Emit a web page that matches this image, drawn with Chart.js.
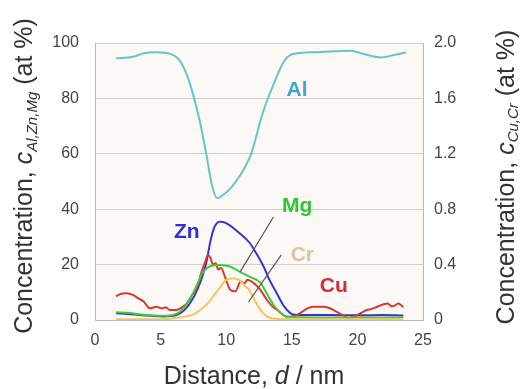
<!DOCTYPE html>
<html>
<head>
<meta charset="utf-8">
<script src="https://cdn.jsdelivr.net/npm/chart.js@4.4.1/dist/chart.umd.min.js"></script>
<style>
  html, body { margin: 0; padding: 0; background: #fff; }
  #wrap { width: 521px; height: 389px; }
</style>
</head>
<body>
<div id="wrap"><canvas id="myChart" width="521" height="389"></canvas></div>
<script>
// distance d (nm) and concentrations
const alX = [1.6, 2.9, 3.7, 4.7, 5.8, 6.4, 7.0, 7.5, 8.0, 8.5, 8.9, 9.3, 9.8, 10.4, 11.1, 11.9, 12.8, 13.6, 14.4, 14.9, 15.8, 16.9, 18.2, 19.5, 20.5, 21.8, 22.8, 23.7];
const alY = [94.5, 95, 96.3, 96.7, 96, 94, 88.5, 81, 71.5, 59.5, 49, 44, 45.3, 48, 52.5, 60, 75, 85, 93.3, 95.7, 96.5, 96.7, 97, 97.2, 96, 94.8, 95.7, 96.6];

const znX = [1.6, 2.5, 3.4, 4.3, 5.2, 6.2, 6.8, 7.3, 7.8, 8.2, 8.5, 8.8, 9.1, 9.5, 10.0, 11.0, 11.8, 12.3, 12.85, 13.3, 13.85, 14.4, 15.1, 16, 18, 20, 22, 23.5];
const znY = [2.4, 2.2, 1.8, 1.5, 1.3, 1.8, 3.5, 6.5, 11, 16, 21, 28.5, 33.5, 35.5, 35, 31.4, 27.8, 24, 19.3, 14.5, 9.7, 5, 2, 1.8, 1.8, 1.7, 1.8, 1.6];

const mgX = [1.6, 2.5, 3.5, 4.5, 5.5, 6.2, 6.8, 7.3, 7.8, 8.25, 8.8, 9.5, 10.3, 11.05, 11.8, 12.6, 13.1, 13.6, 14.1, 14.6, 15.5, 17, 19, 21, 23.5];
const mgY = [2.8, 2.6, 2.0, 1.6, 1.5, 2.2, 4.5, 8, 13, 17.4, 19.5, 19.9, 19.3, 17.4, 15.6, 13.5, 9.5, 5.5, 2.8, 1.3, 1, 0.9, 0.9, 0.9, 0.9];

// Cu and Cr go on the right axis (0 - 2.0 at %)
const crX = [1.6, 3, 4.5, 5.5, 6.3, 7.0, 7.5, 8.0, 8.5, 9.0, 9.5, 10.0, 10.5, 11.0, 11.4, 11.8, 12.3, 12.8, 13.3, 14, 15, 17, 19, 21, 23.5];
const crY = [0.006, 0.006, 0.006, 0.008, 0.016, 0.026, 0.04, 0.07, 0.11, 0.17, 0.23, 0.29, 0.30, 0.29, 0.25, 0.21, 0.12, 0.05, 0.016, 0.008, 0.006, 0.006, 0.006, 0.006, 0.006];

const cuX = [1.6, 2.0, 2.4, 2.9, 3.3, 3.7, 4.2, 4.7, 5.1, 5.4, 5.7, 6.2, 6.6, 7.0, 7.4, 7.8, 8.1, 8.4, 8.6, 8.8, 9.0, 9.2, 9.4, 9.6, 9.9, 10.1, 10.3, 10.7, 11.1, 11.4, 11.6, 12.1, 12.6, 13.1, 13.5, 13.9, 14.3, 14.6, 15.0, 15.4, 15.8, 16.2, 16.6, 16.9, 17.4, 17.8, 18.2, 18.6, 19.0, 19.3, 19.6, 20.0, 20.4, 20.7, 21.1, 21.5, 21.9, 22.3, 22.6, 22.8, 23.1, 23.3, 23.5];
const cuY = [0.17, 0.19, 0.194, 0.182, 0.156, 0.134, 0.084, 0.096, 0.084, 0.092, 0.072, 0.072, 0.09, 0.12, 0.18, 0.242, 0.34, 0.42, 0.47, 0.45, 0.40, 0.41, 0.364, 0.376, 0.314, 0.26, 0.218, 0.206, 0.278, 0.264, 0.29, 0.266, 0.218, 0.146, 0.10, 0.072, 0.04, 0.024, 0.026, 0.036, 0.06, 0.084, 0.096, 0.096, 0.096, 0.088, 0.072, 0.05, 0.03, 0.012, 0.02, 0.036, 0.056, 0.072, 0.08, 0.096, 0.11, 0.12, 0.10, 0.102, 0.12, 0.11, 0.092];

const xTicks = [0, 5, 10, 15, 20, 25];
const leftTicks = [0, 20, 40, 60, 80, 100];
const rightTicks = ["0", "0.4", "0.8", "1.2", "1.6", "2.0"];

// in-plot labels, positioned in data units of the left axis
const labels = [
    { text: "Al", x: 15.4, y: 83, color: "#3aa6d2" },
    { text: "Zn", x: 7.0, y: 31.8, color: "#2f2fd2" },
    { text: "Mg", x: 15.4, y: 41, color: "#33c433" },
    { text: "Cr", x: 15.8, y: 23.5, color: "#e2c29c" },
    { text: "Cu", x: 18.2, y: 12.3, color: "#d42a3a" },
];
const leaders = [
    [13.6, 37.2, 11.05, 17.3],
    [14.2, 23.5, 11.7, 6.5],
];

const pts = (xs, ys) => xs.map((x, i) => ({ x: x, y: ys[i] }));
const FONT = "'Liberation Sans', Arial, sans-serif";

const plotBg = {
    id: "plotBg",
    beforeDraw(chart) {
        const a = chart.chartArea, ctx = chart.ctx;
        ctx.save();
        ctx.fillStyle = "#fcf8f6";
        ctx.fillRect(a.left, a.top, a.right - a.left, a.bottom - a.top);
        ctx.restore();
    },
};

function drawRich(ctx, parts) {
    // parts: [text, font, dy]
    let w = 0;
    parts.forEach((p) => { ctx.font = p[1]; w += ctx.measureText(p[0]).width; });
    let u = -w / 2;
    parts.forEach((p) => {
        ctx.font = p[1];
        ctx.fillText(p[0], u, p[2]);
        u += ctx.measureText(p[0]).width;
    });
}

const extras = {
    id: "extras",
    afterDatasetsDraw(chart) {
        const ctx = chart.ctx, sx = chart.scales.x, sy = chart.scales.y;
        ctx.save();
        ctx.strokeStyle = "#555";
        ctx.lineWidth = 1.2;
        leaders.forEach((l) => {
            ctx.beginPath();
            ctx.moveTo(sx.getPixelForValue(l[0]), sy.getPixelForValue(l[1]));
            ctx.lineTo(sx.getPixelForValue(l[2]), sy.getPixelForValue(l[3]));
            ctx.stroke();
        });
        ctx.textAlign = "center";
        ctx.textBaseline = "middle";
        ctx.font = "bold 21px " + FONT;
        labels.forEach((l) => {
            ctx.fillStyle = l.color;
            ctx.fillText(l.text, sx.getPixelForValue(l.x), sy.getPixelForValue(l.y));
        });
        ctx.restore();
    },
    afterDraw(chart) {
        const ctx = chart.ctx;
        const big = "25px " + FONT, it = "italic 25px " + FONT, sub = "italic 15px " + FONT;
        ctx.save();
        ctx.fillStyle = "#333";
        ctx.textAlign = "left";
        ctx.textBaseline = "alphabetic";
        // x title
        ctx.save();
        ctx.translate(254, 384);
        drawRich(ctx, [["Distance, ", big, 0], ["d", it, 0], [" / nm", big, 0]]);
        ctx.restore();
        // left title
        ctx.save();
        ctx.translate(32, 176);
        ctx.rotate(-Math.PI / 2);
        drawRich(ctx, [["Concentration, ", big, 0], ["c", it, 0], ["Al,Zn,Mg", sub, 5], [" (at %)", big, 0]]);
        ctx.restore();
        // right title
        ctx.save();
        ctx.translate(514, 177);
        ctx.rotate(-Math.PI / 2);
        drawRich(ctx, [["Concentration, ", big, 0], ["c", it, 0], ["Cu,Cr", sub, 4], [" (at %)", big, 0]]);
        ctx.restore();
        ctx.restore();
    },
};

const tickFont = { family: FONT, size: 16 };

new Chart(document.getElementById("myChart").getContext("2d"), {
    type: "line",
    data: {
        datasets: [
            { label: "Al", data: pts(alX, alY), borderColor: "#62c8c6", yAxisID: "y" },
            { label: "Cr", data: pts(crX, crY), borderColor: "#f5c55a", yAxisID: "y2" },
            { label: "Mg", data: pts(mgX, mgY), borderColor: "#3ccc3c", yAxisID: "y" },
            { label: "Cu", data: pts(cuX, cuY), borderColor: "#d8392e", yAxisID: "y2", tension: 0.2 },
            { label: "Zn", data: pts(znX, znY), borderColor: "#3535d0", yAxisID: "y" },
        ],
    },
    options: {
        responsive: false,
        animation: false,
        devicePixelRatio: 1,
        layout: { padding: { top: 43, left: 0, right: 0, bottom: 0 } },
        elements: {
            point: { radius: 0 },
            line: { borderWidth: 2, tension: 0.4, cubicInterpolationMode: "monotone", fill: false },
        },
        plugins: { legend: { display: false }, tooltip: { enabled: false } },
        scales: {
            x: {
                type: "linear",
                min: 0,
                max: 25,
                afterFit: (s) => { s.height = 69; },
                afterBuildTicks: (s) => { s.ticks = xTicks.map((v) => ({ value: v })); },
                grid: { display: false, drawTicks: false },
                border: { display: true, color: "#b8b8b8" },
                ticks: { font: tickFont, color: "#444", padding: 11, maxRotation: 0 },
            },
            y: {
                position: "left",
                min: 0,
                max: 100,
                afterFit: (s) => { s.width = 95; },
                ticks: {
                    stepSize: 10,
                    font: tickFont,
                    color: "#444",
                    padding: 16,
                    callback: (v) => (leftTicks.includes(v) ? String(v) : null),
                },
                grid: { color: "#cfcfcf", drawTicks: false },
                border: { display: true, color: "#b8b8b8" },
            },
            y2: {
                position: "right",
                min: 0,
                max: 2,
                afterFit: (s) => { s.width = 98; },
                ticks: {
                    stepSize: 0.4,
                    font: tickFont,
                    color: "#444",
                    padding: 11,
                    callback: (v, i) => rightTicks[i],
                },
                grid: { drawOnChartArea: false, drawTicks: false },
                border: { display: true, color: "#b8b8b8" },
            },
        },
    },
    plugins: [plotBg, extras],
});
</script>
</body>
</html>
